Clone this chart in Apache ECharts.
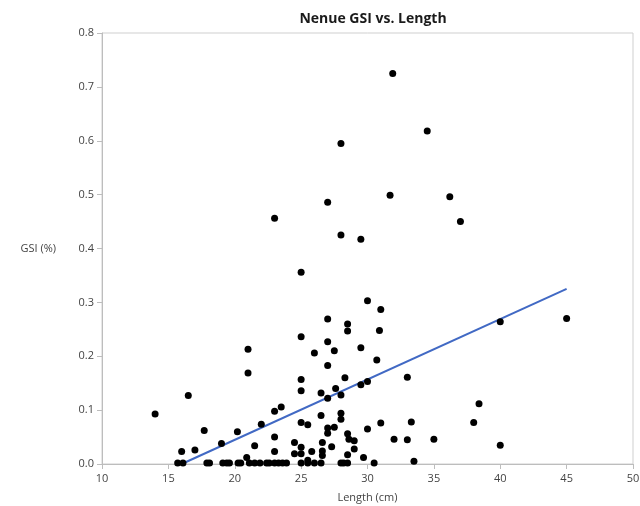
<!DOCTYPE html>
<html>
<head>
<meta charset="utf-8">
<script src="https://cdn.jsdelivr.net/npm/echarts@6/dist/echarts.min.js"></script>
<style>
  html, body { margin: 0; padding: 0; background: #fff; }
  #chart { width: 640px; height: 506px; }
</style>
</head>
<body>
<div id="chart"></div>
<script>
// fish length (cm) and GSI (%)
const lengthCm = [
  31.9, 34.5, 28.0, 31.7, 36.2, 27.0, 23.0, 37.0, 28.0, 29.5,
  25.0, 30.0, 31.0, 27.0, 45.0, 40.0, 28.5, 28.5, 30.9, 25.0,
  27.0, 29.5, 21.0, 27.5, 26.0, 30.7, 27.0, 21.0, 33.0, 28.3,
  25.0, 30.0, 29.5, 27.6, 25.0, 26.5, 28.0, 16.5, 27.0, 38.4,
  23.5, 23.0, 28.0, 14.0, 26.5, 28.0, 33.3, 25.0, 38.0, 31.0,
  22.0, 25.5, 27.5, 27.0, 30.0, 17.7, 20.2, 27.0, 28.5, 23.0,
  28.6, 32.0, 33.0, 35.0, 29.0, 24.5, 26.6, 19.0, 40.0, 21.5,
  27.3, 25.0, 29.0, 17.0, 16.0, 23.0, 26.6, 25.8, 24.5, 25.0,
  26.6, 28.5, 20.9, 29.7, 25.5, 33.5,
  15.7, 16.1, 17.9, 18.1, 19.1, 19.4, 19.6, 20.25, 20.45, 21.1,
  21.5, 21.9, 22.4, 22.6, 23.0, 23.3, 23.6, 23.9, 25.0, 25.5,
  26.0, 26.5, 28.0, 28.2, 28.5, 30.5
];
const gsiPct = [
  0.725, 0.618, 0.595, 0.499, 0.496, 0.486, 0.456, 0.450, 0.425, 0.417,
  0.356, 0.303, 0.287, 0.269, 0.270, 0.264, 0.260, 0.247, 0.248, 0.236,
  0.227, 0.216, 0.213, 0.210, 0.206, 0.193, 0.183, 0.169, 0.161, 0.160,
  0.157, 0.153, 0.147, 0.140, 0.136, 0.132, 0.128, 0.127, 0.122, 0.112,
  0.106, 0.098, 0.094, 0.093, 0.090, 0.083, 0.078, 0.077, 0.077, 0.076,
  0.074, 0.073, 0.068, 0.067, 0.065, 0.062, 0.060, 0.057, 0.056, 0.050,
  0.046, 0.046, 0.045, 0.046, 0.043, 0.040, 0.040, 0.038, 0.035, 0.034,
  0.032, 0.031, 0.028, 0.026, 0.023, 0.023, 0.024, 0.023, 0.019, 0.019,
  0.016, 0.017, 0.012, 0.012, 0.007, 0.005,
  0.002, 0.002, 0.002, 0.002, 0.002, 0.002, 0.002, 0.002, 0.002, 0.002,
  0.002, 0.002, 0.002, 0.002, 0.002, 0.002, 0.002, 0.002, 0.002, 0.002,
  0.002, 0.002, 0.002, 0.002, 0.002, 0.002
];

// fitted line end points
const fitX = [16.0, 45.0];
const fitY = [0.0, 0.325];

const xTicks = { min: 10, max: 50, step: 5 };
const yTicks = { min: 0, max: 0.8, step: 0.1 };

const chart = echarts.init(document.getElementById("chart"));

const labelFont = "'Open Sans', 'Noto Sans', sans-serif";

const options = {
  backgroundColor: "#ffffff",
  animation: false,
  title: {
    text: "Nenue GSI vs. Length",
    left: 368,
    top: 7,
    textAlign: "center",
    textStyle: {
      color: "#1a1a1a",
      fontSize: 14,
      fontWeight: "bold",
      fontFamily: labelFont,
    },
  },
  grid: {
    left: 102,
    right: 7,
    top: 33,
    bottom: 42,
    outerBoundsMode: "none",
    containLabel: false,
    show: true,
    borderColor: "#cfcfcf",
    borderWidth: 1,
  },
  xAxis: {
    type: "value",
    min: xTicks.min,
    max: xTicks.max,
    interval: xTicks.step,
    name: "Length (cm)",
    nameLocation: "middle",
    nameGap: 28,
    nameTextStyle: { color: "#444", fontSize: 11, fontFamily: labelFont },
    axisLine: { lineStyle: { color: "#bdbdbd" } },
    axisTick: { show: true, length: 5, lineStyle: { color: "#bdbdbd" } },
    axisLabel: { color: "#444", fontSize: 11, margin: 9, fontFamily: labelFont },
    splitLine: { show: false },
  },
  yAxis: {
    type: "value",
    min: yTicks.min,
    max: yTicks.max,
    interval: yTicks.step,
    name: "GSI (%)",
    nameLocation: "middle",
    nameRotate: 0,
    nameGap: 46,
    nameTextStyle: { color: "#444", fontSize: 11, fontFamily: labelFont, align: "right" },
    axisLine: { show: true, lineStyle: { color: "#bdbdbd" } },
    axisTick: { show: true, length: 5, lineStyle: { color: "#bdbdbd" } },
    axisLabel: {
      color: "#444",
      fontSize: 11,
      margin: 8,
      fontFamily: labelFont,
      formatter: (v) => v.toFixed(1),
    },
    splitLine: { show: false },
  },
  series: [
    {
      type: "line",
      data: fitX.map((x, i) => [x, fitY[i]]),
      symbol: "none",
      lineStyle: { color: "#4169c4", width: 2 },
      z: 3,
    },
    {
      type: "scatter",
      data: lengthCm.map((x, i) => [x, gsiPct[i]]),
      symbol: "circle",
      symbolSize: 7,
      itemStyle: { color: "#000000", opacity: 1 },
      z: 4,
    },
  ],
};

chart.setOption(options);
</script>
</body>
</html>
